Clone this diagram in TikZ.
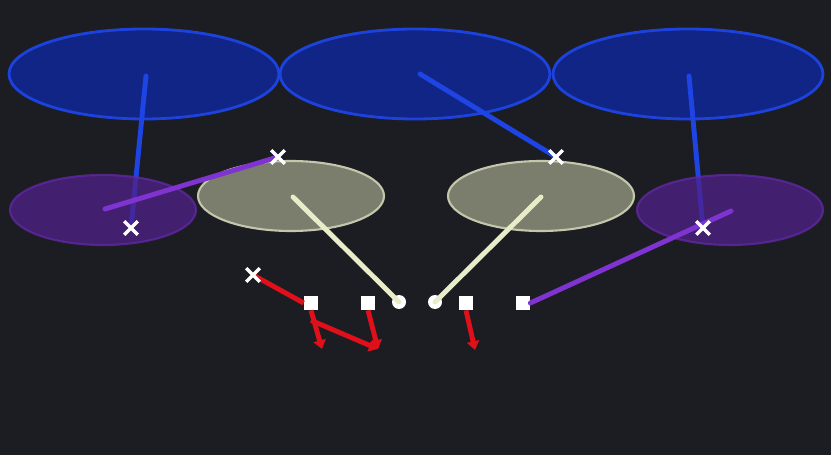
\documentclass[tikz,border=0pt]{standalone}
\usetikzlibrary{shapes.misc,arrows.meta}
\definecolor{bg}{HTML}{1B1D22}
\definecolor{deepfill}{HTML}{10268C}
\definecolor{deepline}{HTML}{1E44E4}
\definecolor{purplefill}{HTML}{50208A}
\definecolor{purpleline}{HTML}{7F33D0}
\definecolor{greyfill}{HTML}{7B7E6C}
\definecolor{greyline}{HTML}{C4C7AC}
\definecolor{cream}{HTML}{E8ECC8}
\definecolor{route}{HTML}{E0101A}
\tikzset{
  deepzone/.style={fill=deepfill,draw=deepline,line width=1.6pt,opacity=0.95},
  flatzone/.style={fill=purplefill,draw=purplefill!60!purpleline,line width=1.2pt,opacity=0.75},
  hookzone/.style={fill=greyfill,draw=greyline,line width=1.2pt},
  drop/.style={line width=2.8pt,line cap=round},
  runroute/.style={draw=route,line width=2.8pt,-{Triangle[length=5pt,width=7pt]}},
  receiver/.style={rectangle,fill=white,minimum size=0.28cm,inner sep=0pt},
  lineman/.style={circle,fill=white,minimum size=0.28cm,inner sep=0pt},
  defender/.style={cross out,draw=white,line width=2pt,minimum size=0.2cm,inner sep=0pt}
}
\begin{document}
\begin{tikzpicture}[x=0.02cm,y=-0.02cm]
  \fill[bg] (0,0) rectangle (831,455);
  \useasboundingbox (0,0) rectangle (831,455);
  % deep zones
  \draw[deepzone] (144,74) ellipse (135 and 45);
  \draw[deepzone] (415,74) ellipse (135 and 45);
  \draw[deepzone] (688,74) ellipse (135 and 45);
  \coordinate (deepl) at (146,76);
  \coordinate (deepm) at (420,74);
  \coordinate (deepr) at (689,76);
  % defenders
  \coordinate (cbl) at (131,228);
  \coordinate (lbl) at (278,157);
  \coordinate (lbr) at (556,157);
  \coordinate (cbr) at (703,228);
  \coordinate (mot) at (253,275);
  \draw[drop,deepline] (deepl) -- (cbl);
  \draw[drop,deepline] (deepm) -- (lbr);
  \draw[drop,deepline] (deepr) -- (cbr);
  % underneath zones
  \draw[flatzone] (103,210) ellipse (93 and 35);
  \draw[flatzone] (730,210) ellipse (93 and 35);
  \draw[hookzone] (291,196) ellipse (93 and 35);
  \draw[hookzone] (541,196) ellipse (93 and 35);
  \coordinate (flatl) at (105,209);
  \coordinate (flatr) at (731,211);
  \coordinate (hookl) at (293,197);
  \coordinate (hookr) at (541,197);
  % offense
  \node[receiver] (wra) at (311,303) {};
  \node[receiver] (wrb) at (368,303) {};
  \node[lineman] (olb) at (399,302) {};
  \node[lineman] (olc) at (435,302) {};
  \node[receiver] (wrc) at (466,303) {};
  \node[receiver] (wrd) at (523,303) {};
  \draw[drop,purpleline] (flatl) -- (lbl);
  \draw[drop,purpleline] (flatr) -- (wrd.east);
  \draw[drop,cream] (hookl) -- (olb.center);
  \draw[drop,cream] (hookr) -- (olc.center);
  % routes
  \coordinate (enda) at (322,349);
  \coordinate (endb) at (378,349);
  \coordinate (endc) at (475,350);
  \draw[drop,route,line cap=butt] (mot) -- (wra.west);
  \draw[runroute] (wra.south) -- (enda);
  \draw[runroute] ([yshift=-0.2cm]wra.south) -- (endb);
  \draw[runroute] (wrb.south) -- (endb);
  \draw[runroute] (wrc.south) -- (endc);
  % marks on top
  \foreach \d in {cbl,lbl,lbr,cbr,mot}
    \node[defender] at (\d) {};
\end{tikzpicture}
\end{document}
